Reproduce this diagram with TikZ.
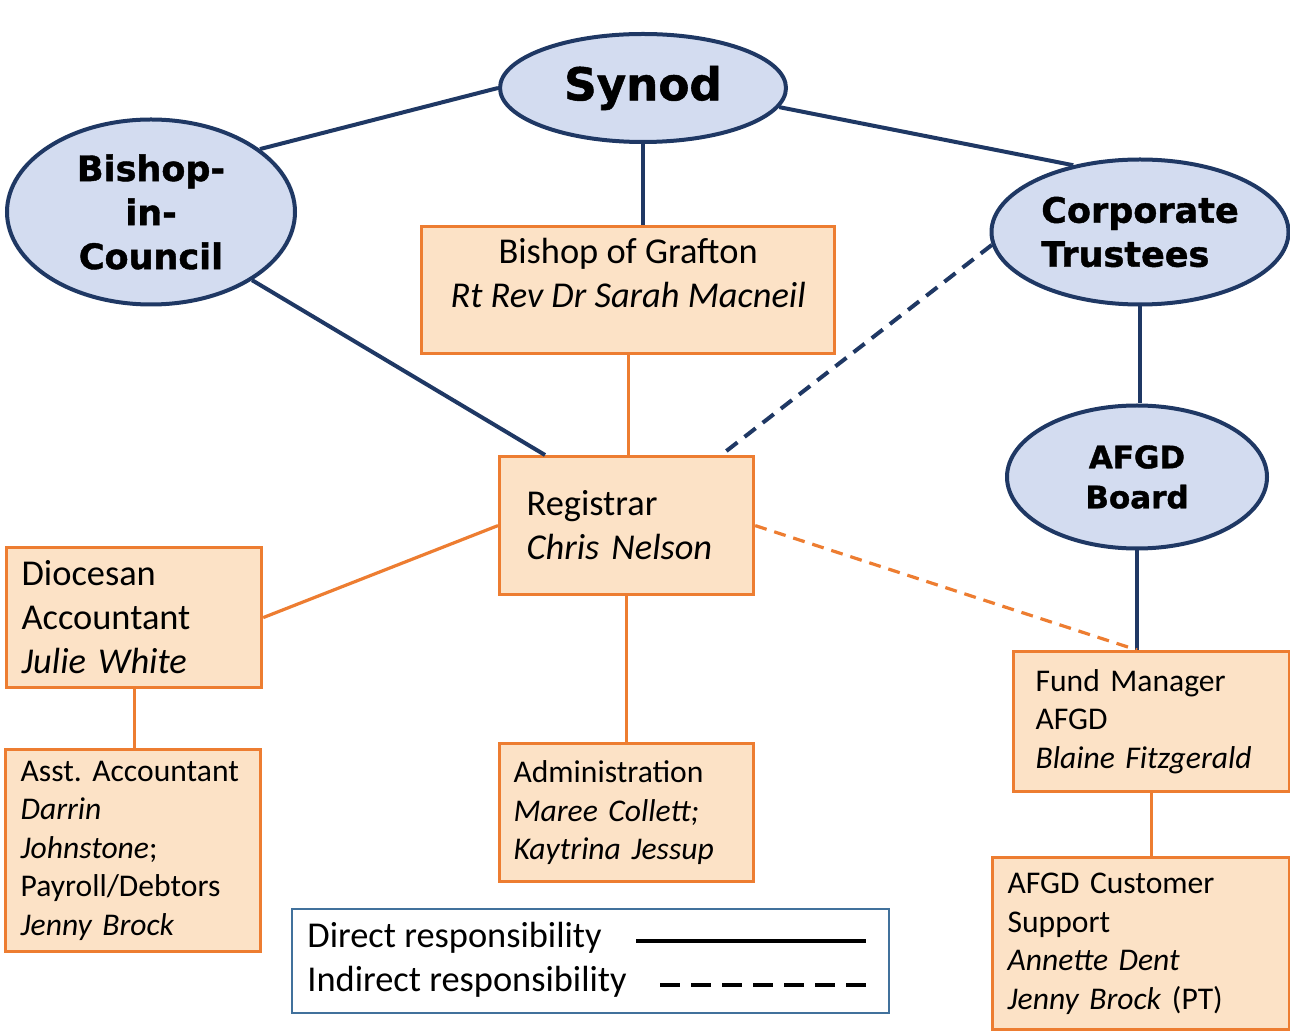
\documentclass[tikz,border=0pt]{standalone}
\usepackage{fontspec}
\setmainfont{Carlito}
\newfontfamily\ovalfont{DejaVu Sans}[BoldFeatures={FakeBold=1.2}]
\usetikzlibrary{shapes.geometric}
\definecolor{navy}{RGB}{31,56,100}
\definecolor{ovalfill}{RGB}{211,220,240}
\definecolor{boxfill}{RGB}{252,226,198}
\definecolor{boxline}{RGB}{237,125,49}
\definecolor{legline}{RGB}{65,113,156}
\frenchspacing
\begin{document}
\begin{tikzpicture}[x=0.5pt, y=-0.5pt,
		oval/.style={ellipse, draw=navy, fill=ovalfill, line width=2pt, inner sep=0pt, align=center,
			font=\ovalfont\bfseries\fontsize{17.5}{22}\selectfont},
		box/.style={rectangle, draw=boxline, fill=boxfill, line width=1.6pt, anchor=north west,
			align=left, inner ysep=0pt, font=\fontsize{18.2}{22}\selectfont},
		smalltext/.style={font=\fontsize{15.8}{19.25}\selectfont},
		direct/.style={draw=navy, line width=2pt},
		report/.style={draw=boxline, line width=1.6pt},
		indirect/.style={dash pattern=on 7pt off 4.5pt}
	]
		\useasboundingbox (0,0) rectangle (1290,1031);
		\path
			(643,  88) node[oval, minimum width=143pt, minimum height=54pt,
				font=\ovalfont\bfseries\fontsize{22.6}{26}\selectfont]           (syn)  {Synod}
			(151, 212) node[oval, minimum width=144pt, minimum height=92.5pt]  (bic)  {Bishop-\\in-\\Council}
			(1140,232) node[oval, minimum width=148.5pt, minimum height=72.5pt,
				align=left]                                                      (ct)   {Corporate\\Trustees}
			(1137,477) node[oval, minimum width=130pt, minimum height=71.5pt,
				font=\ovalfont\bfseries\fontsize{15.5}{20}\selectfont]           (afgd) {AFGD\\Board}
		;
		\path
			(420, 225) node[box, minimum width=206.5pt, inner xsep=0pt, inner ysep=6pt] (bog)
				{\parbox[t][51.5pt][t]{200pt}{\centering Bishop of Grafton\\ \textit{Rt Rev Dr Sarah Macneil}}}
			(498, 455) node[box, minimum height=69pt, inner xsep=13.5pt, text width=100pt] (reg)
				{Registrar\\\textit{Chris Nelson}}
			(5,   546) node[box, minimum height=70pt, inner xsep=7.5pt, text width=112.5pt] (dio)
				{Diocesan\\Accountant\\\textit{Julie White}}
			(4,   748) node[box, smalltext, minimum height=101pt, inner xsep=7.5pt, text width=112.5pt] (asst)
				{Asst. Accountant\\\textit{Darrin}\\\textit{Johnstone};\\Payroll/Debtors\\\textit{Jenny Brock}}
			(498, 742) node[box, smalltext, minimum height=69pt, inner xsep=7pt, text width=113pt] (admin)
				{Administration\\\textit{Maree Collett;}\\\textit{Kaytrina Jessup}}
			(1012,650) node[box, smalltext, minimum height=70pt, inner xsep=11pt, text width=116pt] (fund)
				{Fund Manager\\AFGD\\\textit{Blaine Fitzgerald}}
			(991, 856) node[box, smalltext, minimum height=86pt, inner xsep=7.5pt, text width=133.5pt] (cust)
				{AFGD Customer\\Support\\\textit{Annette Dent}\\\textit{Jenny Brock} (PT)}
		;
		\path
			(291, 908) node[draw=legline, line width=0.8pt, anchor=north west,
				minimum width=298.5pt, minimum height=52pt]                       (leg) {}
			(307, 938) node[anchor=west, inner sep=0pt, font=\fontsize{18.2}{22}\selectfont] (ldirect)   {Direct responsibility}
			(307, 982) node[anchor=west, inner sep=0pt, font=\fontsize{18.2}{22}\selectfont] (lindirect) {Indirect responsibility}
		;
		\coordinate (d1) at (636,941);
		\coordinate (d2) at (866,941);
		\coordinate (i1) at (660,985);
		\coordinate (i2) at (866,985);
		\draw[line width=2pt]                          (d1) -- (d2);
		\draw[line width=2pt, dash pattern=on 10pt off 5.5pt] (i1) -- (i2);
		\draw[direct]          (syn.west)   -- (bic.30);
		\draw[direct]          (syn.-8)     -- (ct.135);
		\draw[direct]          (syn.south)  -- (syn.south |- bog.north);
		\draw[direct]          (bic.-34)    -- ([xshift=23.5pt]reg.north west);
		\draw[direct,indirect] (ct.185)     -- ([xshift=-17pt]reg.north east);
		\draw[direct]          (ct.south)   -- (ct.south |- afgd.north);
		\draw[direct]          (afgd.south) -- (afgd.south |- fund.north);
		\draw[report]          (bog.south)  -- (bog.south |- reg.north);
		\draw[report]          (reg.west)   -- (dio.east);
		\draw[report]          (reg.south)  -- (reg.south |- admin.north);
		\draw[report]          (dio.south)  -- (dio.south |- asst.north);
		\draw[report]          (fund.south) -- (fund.south |- cust.north);
		\draw[report, dash pattern=on 6pt off 4pt] (reg.east) -- (afgd.south |- fund.north);
	\end{tikzpicture}
\end{document}
